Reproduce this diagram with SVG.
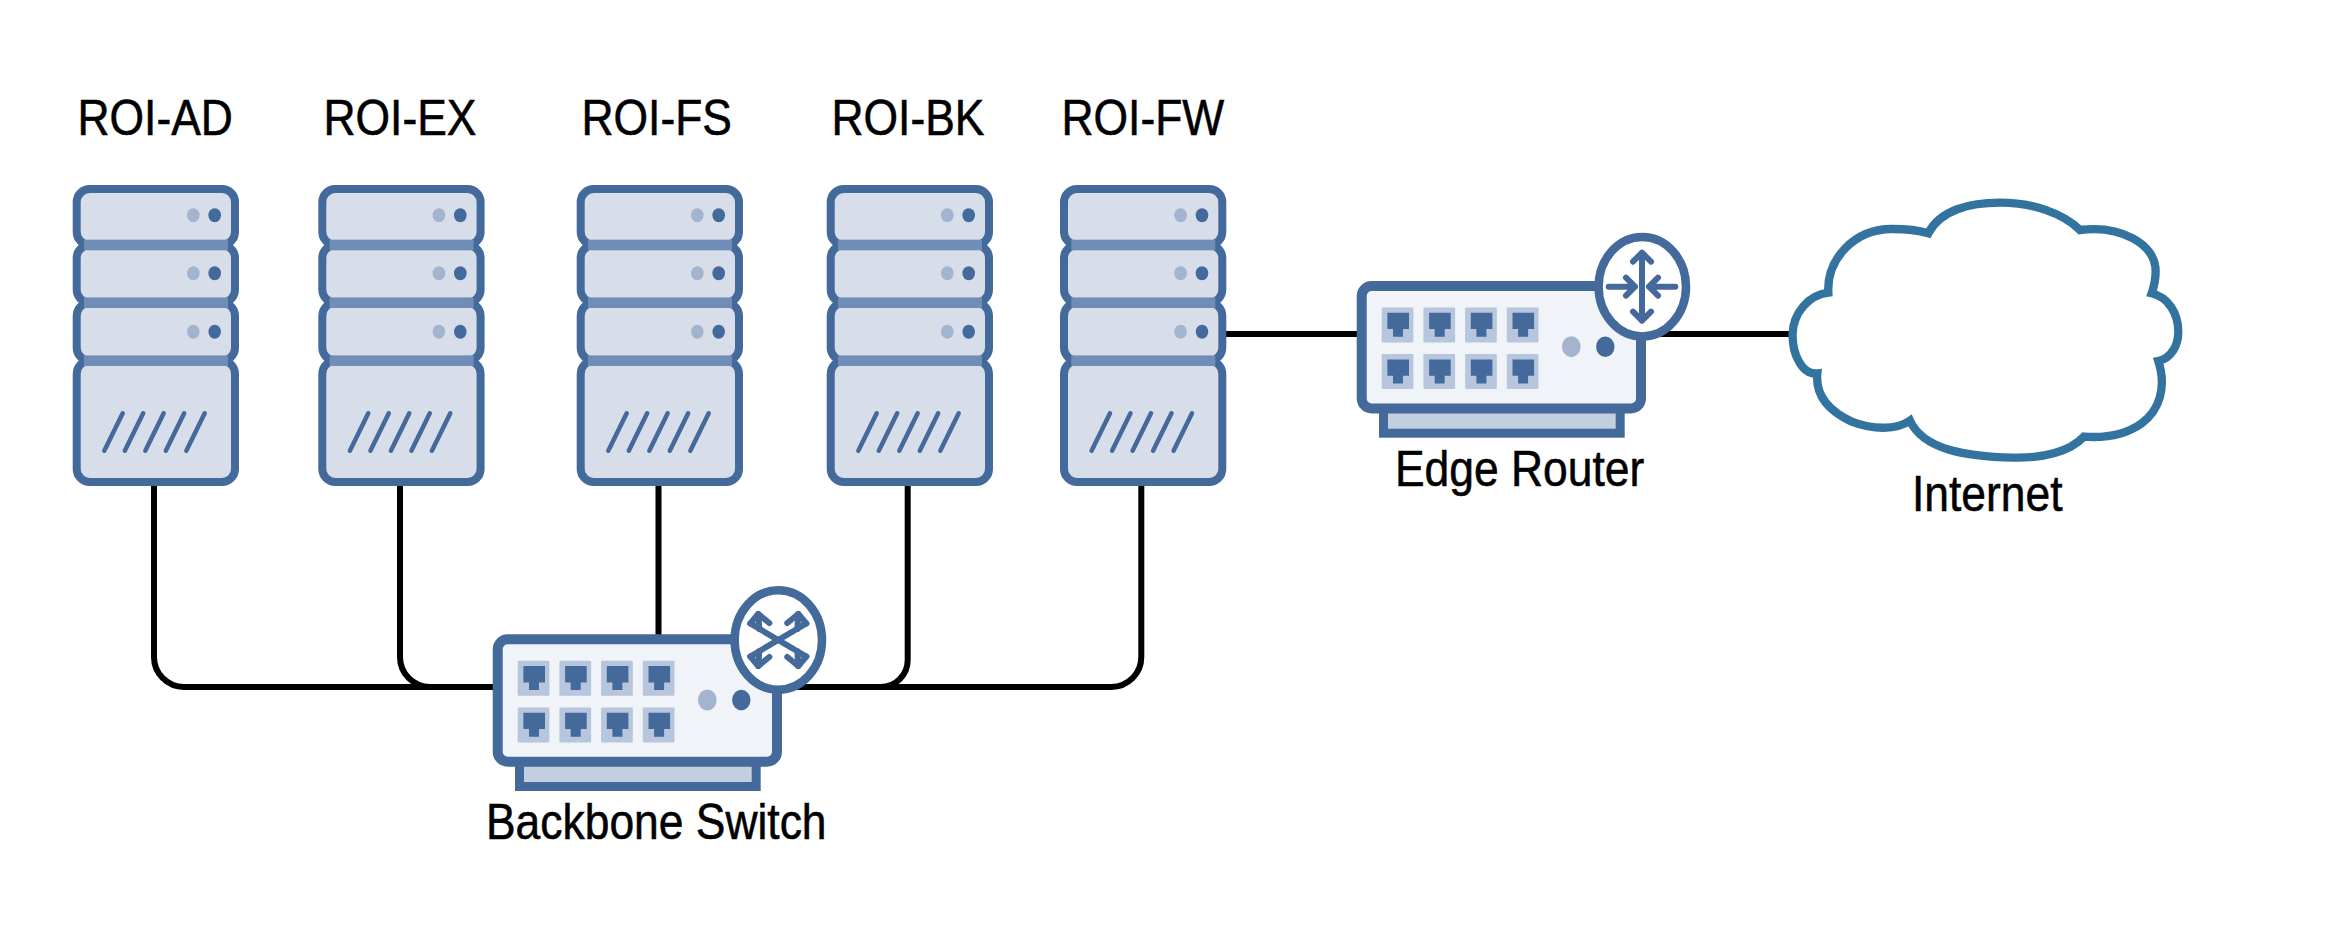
<svg xmlns="http://www.w3.org/2000/svg" xmlns:xlink="http://www.w3.org/1999/xlink" width="2338" height="942" viewBox="0 0 2338 942">
<style>
.bg{fill:#fff}
.conn{fill:none;stroke:#000;stroke-width:6}
.unit{fill:#d7deea;stroke:#44699b;stroke-width:8}
.band{fill:#6f8db6}
.ledl{fill:#a2b4ce}
.ledd{fill:#44699b}
.slash{stroke:#44699b;stroke-width:4.5;stroke-linecap:round;fill:none}
.body{fill:#f0f3f8;stroke:#44699b;stroke-width:10}
.base{fill:#c3cfe0;stroke:#44699b;stroke-width:9}
.pbg{fill:#b7c6dc}
.badge{fill:#fff;stroke:#44699b;stroke-width:8.5}
.arr{fill:none;stroke:#44699b;stroke-width:6;stroke-linecap:round;stroke-linejoin:round}
.cloud{fill:#fff;stroke:#33739f;stroke-width:25;stroke-linejoin:miter;stroke-miterlimit:6}
.t{font-family:"Liberation Sans",Arial,sans-serif;font-size:44.4px;fill:#000;stroke:#000;stroke-width:0.5}
</style>
<defs>
<g id="server">
<rect class="unit" x="76.7" y="360.7" width="158.3" height="121.3" rx="13"/>
<rect class="unit" x="76.7" y="302.7" width="158.3" height="58" rx="13"/>
<rect class="unit" x="76.7" y="245" width="158.3" height="57.7" rx="13"/>
<rect class="unit" x="76.7" y="189" width="158.3" height="56" rx="13"/>
<rect class="band" x="84" y="239.7" width="144" height="10.6"/>
<rect class="band" x="84" y="297.4" width="144" height="10.6"/>
<rect class="band" x="84" y="355.4" width="144" height="10.6"/>
<ellipse class="ledl" cx="193.3" cy="215.3" rx="6.3" ry="7"/><ellipse class="ledd" cx="214.7" cy="215.3" rx="6.3" ry="7"/>
<ellipse class="ledl" cx="193.3" cy="273.3" rx="6.3" ry="7"/><ellipse class="ledd" cx="214.7" cy="273.3" rx="6.3" ry="7"/>
<ellipse class="ledl" cx="193.3" cy="331.7" rx="6.3" ry="7"/><ellipse class="ledd" cx="214.7" cy="331.7" rx="6.3" ry="7"/>
<path class="slash" d="M104.3,450.7L122.7,413.3M124.8,450.7L143.2,413.3M145.3,450.7L163.7,413.3M165.8,450.7L184.2,413.3M186.3,450.7L204.7,413.3"/>
</g>
<g id="port">
<rect class="pbg" width="31.7" height="35" rx="1"/>
<path class="ledd" d="M5.7,5.3H27.3V21.7H21.3V29.3H11.3V21.7H5.7Z"/>
</g>
<g id="device">
<rect class="base" x="519.5" y="755" width="236.7" height="31.5"/>
<rect class="body" x="497.7" y="639.3" width="279.3" height="122.4" rx="10"/>
<use href="#port" x="517.7" y="660.7"/><use href="#port" x="559.4" y="660.7"/><use href="#port" x="601.1" y="660.7"/><use href="#port" x="642.8" y="660.7"/>
<use href="#port" x="517.7" y="707.4"/><use href="#port" x="559.4" y="707.4"/><use href="#port" x="601.1" y="707.4"/><use href="#port" x="642.8" y="707.4"/>
<ellipse class="ledl" cx="707.3" cy="700" rx="9.3" ry="10.5"/>
<ellipse class="ledd" cx="741.3" cy="700" rx="9.2" ry="10.3"/>
<ellipse class="badge" cx="778.3" cy="640" rx="43.7" ry="49.7"/>
</g>
</defs>
<rect class="bg" width="2338" height="942"/>
<g id="connectors">
<path class="conn" d="M154,486V657A30,30 0 0 0 184,687H497"/>
<path class="conn" d="M400,486V657A30,30 0 0 0 430,687"/>
<path class="conn" d="M658.5,486V640"/>
<path class="conn" d="M907.7,486V660A27,27 0 0 1 880.7,687H780"/>
<path class="conn" d="M1141.3,486V657A30,30 0 0 1 1111.3,687H780"/>
<path class="conn" d="M1226,334H1360"/>
<path class="conn" d="M1660,334H1808"/>
</g>
<g id="roi-ad"><use href="#server"/><text class="t" transform="translate(77.5,135) scale(1,1.125)">ROI-AD</text></g>
<g id="roi-ex"><use href="#server" x="245.6"/><text class="t" transform="translate(323.5,135) scale(1,1.125)">ROI-EX</text></g>
<g id="roi-fs"><use href="#server" x="504"/><text class="t" transform="translate(581.5,135) scale(1,1.125)">ROI-FS</text></g>
<g id="roi-bk"><use href="#server" x="754"/><text class="t" transform="translate(831.5,135) scale(1,1.125)">ROI-BK</text></g>
<g id="roi-fw"><use href="#server" x="987.3"/><text class="t" transform="translate(1061.5,135) scale(1,1.125)">ROI-FW</text></g>
<g id="backbone-switch">
<use href="#device"/>
<g transform="translate(778.3,640)">
<path class="arr" d="M-28,-16.5L28,16.5M-28,16.5L28,-16.5M-19,-11L-20,-26M19,-11L20,-26M-19,11L-20,26M19,11L20,26"/>
<path class="arr" d="M-28,-16.5L-20,-26L-9,-17M28,-16.5L20,-26L9,-17M-28,16.5L-20,26L-9,17M28,16.5L20,26L9,17"/>
</g>
<text class="t" transform="translate(486,839) scale(1,1.125)">Backbone Switch</text>
</g>
<g id="edge-router">
<use href="#device" transform="translate(864,-353.3)"/>
<g transform="translate(1642,286.7)">
<path class="arr" d="M0,-34V34M-9,-25L0,-34L9,-25M-9,25L0,34L9,25"/>
<path class="arr" d="M-33.3,0H-7M-16,-9L-7,0L-16,9M33.3,0H7M16,-9L7,0L16,9"/>
</g>
<text class="t" transform="translate(1395,486) scale(1,1.125)">Edge Router</text>
</g>
<g id="internet">
<path class="cloud" transform="translate(1780,180) scale(0.3333)" d="M445,160C480,90 570,68 660,68C760,68 850,100 900,150C1020,135 1128,190 1127,275C1127,295 1122,320 1115,340C1165,352 1195,400 1195,455C1195,495 1175,535 1135,543C1160,620 1140,690 1085,730C1040,762 980,775 912,770C870,815 790,835 700,833C560,830 430,810 390,722C350,750 280,750 215,725C150,695 105,650 112,580C65,585 36,520 38,460C40,400 85,345 145,338C140,240 220,145 340,147C380,147 410,150 445,160Z"/>
<text class="t" transform="translate(1912,511) scale(1,1.125)">Internet</text>
</g>
</svg>
